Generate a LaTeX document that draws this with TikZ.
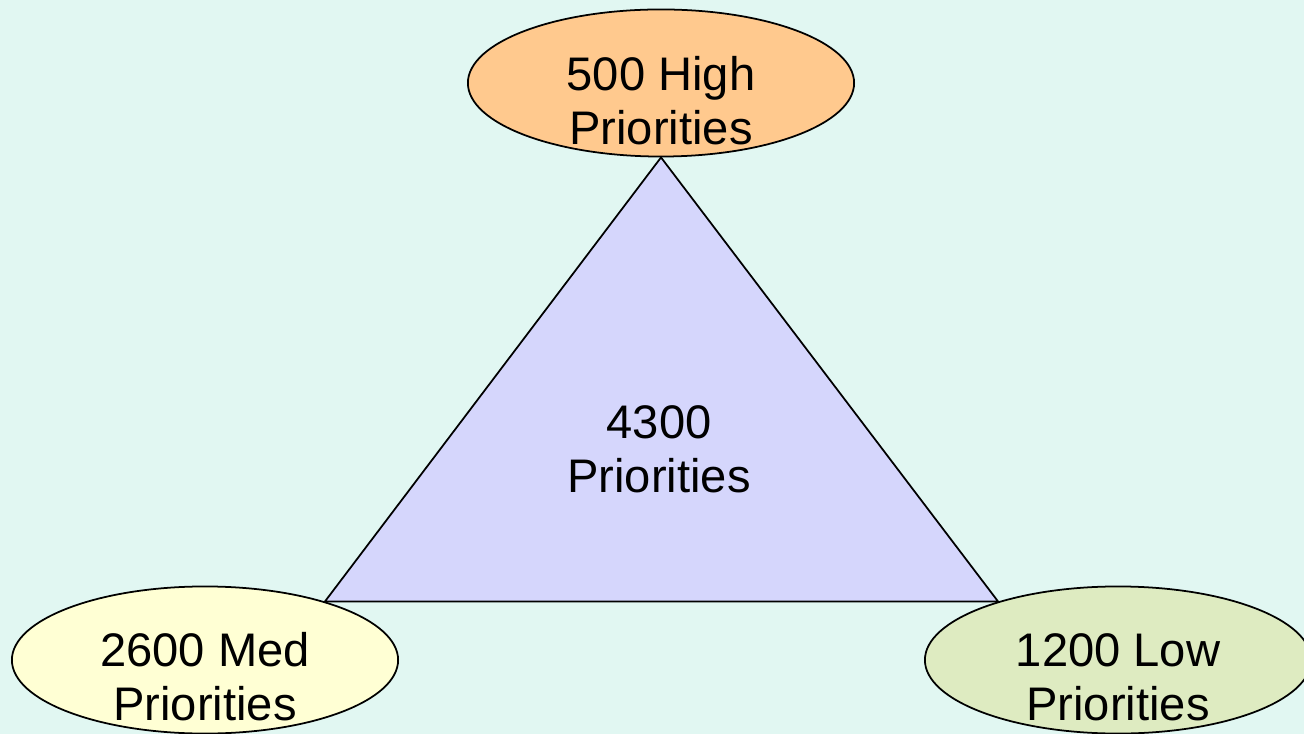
\documentclass[tikz,border=0pt]{standalone}
\usepackage{xcolor}
\usepackage{fontspec}
\setmainfont{Liberation Sans}
\usetikzlibrary{shapes.geometric}

\definecolor{bgmint}{HTML}{E1F7F2}
\definecolor{highfill}{HTML}{FFC98E}
\definecolor{medfill}{HTML}{FFFFD4}
\definecolor{lowfill}{HTML}{DEEBC1}
\definecolor{allfill}{HTML}{D5D6FC}

\begin{document}
\begin{tikzpicture}[x=0.01cm, y=-0.01cm,
    prio/.style={ellipse, draw=black, line width=.5pt, minimum width=3.86cm, minimum height=1.47cm, inner sep=0pt},
    prioText/.style={draw=none, align=center, inner sep=0pt, font=\fontsize{13.4}{15.4}\selectfont}]
             \fill[bgmint] (0, 0) rectangle (1304, 734);
             \useasboundingbox (0, 0) rectangle (1304, 734);

             \node[prio, fill=highfill] (high) at (661, 83) {};
             \node[prio, fill=medfill] (med) at (205, 660) {};
             \node[prio, fill=lowfill] (low) at (1118, 660) {};

             \draw[fill=allfill, line width=.5pt] (high.south) -- (low.154) -- (med.26) -- cycle;

             \node[prioText] (highText) at (661, 101) {500 High\\Priorities};
             \node[prioText] (medText) at (205, 677) {2600 Med\\Priorities};
             \node[prioText] (lowText) at (1118, 677) {1200 Low\\Priorities};
             \node[prioText] (allText) at (659, 449) {4300\\Priorities};
             \end{tikzpicture}
\end{document}
